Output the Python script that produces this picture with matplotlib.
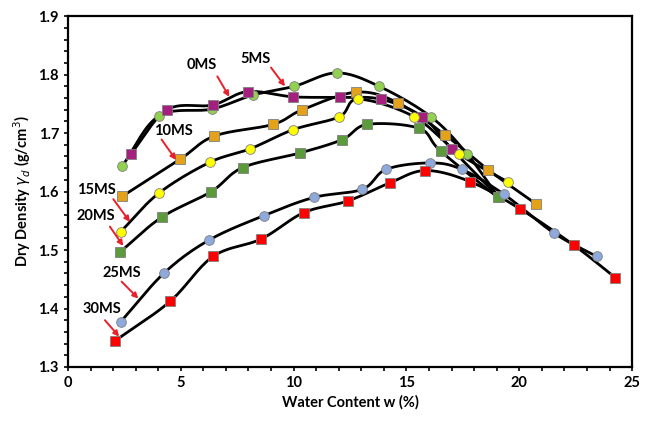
import numpy as np
import matplotlib
matplotlib.use("Agg")
import matplotlib.pyplot as plt
from matplotlib.ticker import MultipleLocator

# water content w (%) and dry density (g/cm3)
w_0ms = [2.41, 4.02, 6.37, 8.19, 10.03, 11.92, 13.79, 16.08, 17.67, 19.05]
d_0ms = [1.644, 1.729, 1.741, 1.765, 1.780, 1.803, 1.780, 1.728, 1.665, 1.592]

w_5ms = [2.78, 4.40, 6.41, 7.96, 9.99, 12.06, 13.86, 15.71, 17.00, 19.10]
d_5ms = [1.664, 1.740, 1.748, 1.771, 1.762, 1.761, 1.758, 1.728, 1.673, 1.590]

w_10ms = [2.41, 4.96, 6.49, 9.10, 10.39, 12.77, 14.61, 16.71, 18.63, 20.74]
d_10ms = [1.592, 1.655, 1.695, 1.715, 1.740, 1.770, 1.752, 1.697, 1.637, 1.579]

w_15ms = [2.33, 4.02, 6.28, 8.07, 9.99, 12.03, 12.87, 15.34, 17.35, 19.52]
d_15ms = [1.531, 1.597, 1.650, 1.673, 1.706, 1.728, 1.758, 1.728, 1.664, 1.616]

w_20ms = [2.32, 4.15, 6.35, 7.74, 10.28, 12.16, 13.27, 15.57, 16.52, 19.05]
d_20ms = [1.497, 1.556, 1.600, 1.641, 1.666, 1.689, 1.715, 1.708, 1.669, 1.590]

w_25ms = [2.33, 4.27, 6.25, 8.69, 10.90, 13.05, 14.10, 16.05, 17.45, 19.33, 21.54, 23.43]
d_25ms = [1.377, 1.461, 1.517, 1.559, 1.590, 1.604, 1.638, 1.649, 1.638, 1.595, 1.529, 1.489]

w_30ms = [2.10, 4.52, 6.43, 8.57, 10.45, 12.41, 14.27, 15.84, 17.82, 20.05, 22.43, 24.25]
d_30ms = [1.345, 1.412, 1.489, 1.519, 1.564, 1.584, 1.615, 1.636, 1.617, 1.570, 1.508, 1.453]

x_ticks = [0, 5, 10, 15, 20, 25]
y_ticks = [1.3, 1.4, 1.5, 1.6, 1.7, 1.8, 1.9]


def smooth(x, y, n=20):
    # Excel-style smoothed line (Catmull-Rom through the measured points)
    x = np.asarray(x, float)
    y = np.asarray(y, float)
    px = np.concatenate([[2 * x[0] - x[1]], x, [2 * x[-1] - x[-2]]])
    py = np.concatenate([[2 * y[0] - y[1]], y, [2 * y[-1] - y[-2]]])
    t = np.linspace(0, 1, n)
    xs, ys = [], []
    for i in range(1, len(px) - 2):
        for p, out in ((px, xs), (py, ys)):
            p0, p1, p2, p3 = p[i - 1], p[i], p[i + 1], p[i + 2]
            out.append(0.5 * (2 * p1 + (-p0 + p2) * t
                              + (2 * p0 - 5 * p1 + 4 * p2 - p3) * t ** 2
                              + (-p0 + 3 * p1 - 3 * p2 + p3) * t ** 3))
    return np.concatenate(xs), np.concatenate(ys)


plt.rcParams["font.family"] = ["Lato", "DejaVu Sans"]
plt.rcParams["mathtext.fontset"] = "dejavusans"

fig = plt.figure(figsize=(6.47, 4.25), dpi=100)
ax = fig.add_axes([0.105, 0.1365, 0.872, 0.8255])

series = [
    (w_0ms, d_0ms, "o", "#92D050"),
    (w_5ms, d_5ms, "s", "#A5207E"),
    (w_10ms, d_10ms, "s", "#E3A21A"),
    (w_15ms, d_15ms, "o", "#FFFF00"),
    (w_20ms, d_20ms, "s", "#5B9B3C"),
    (w_25ms, d_25ms, "o", "#8EA9DB"),
    (w_30ms, d_30ms, "s", "#FF0000"),
]

for w, d, mk, col in series:
    sx, sy = smooth(w, d)
    ax.plot(sx, sy, color="black", lw=2.0, zorder=2)
for w, d, mk, col in series:
    ax.plot(w, d, ls="none", marker=mk, ms=7 if mk == "o" else 6.5,
            mfc=col, mec="#7f7f7f", mew=0.6, zorder=3)

labels = [
    ("0MS", (5.93, 1.816), (6.62, 1.797), (7.15, 1.762)),
    ("5MS", (8.29, 1.826), (9.0, 1.812), (9.62, 1.780)),
    ("10MS", (4.67, 1.703), (4.15, 1.689), (4.79, 1.654)),
    ("15MS", (1.24, 1.603), (2.01, 1.587), (2.75, 1.548)),
    ("20MS", (1.24, 1.558), (1.86, 1.540), (2.45, 1.507)),
    ("25MS", (2.38, 1.461), (2.38, 1.446), (3.12, 1.417)),
    ("30MS", (1.49, 1.400), (1.64, 1.380), (2.27, 1.352)),
]
for txt, pos, a0, a1 in labels:
    ax.text(pos[0], pos[1], txt, ha="center", va="center",
            fontsize=10.5, fontweight="bold", zorder=5)
    ax.annotate("", xy=a1, xytext=a0,
                arrowprops=dict(arrowstyle="-|>", color="#E8202A", lw=1.4,
                                mutation_scale=8, shrinkA=0, shrinkB=0),
                zorder=5)

ax.set_xlim(0, 25)
ax.set_ylim(1.3, 1.9)
ax.set_xticks(x_ticks)
ax.set_yticks(y_ticks)
ax.set_yticklabels([f"{v:.1f}" for v in y_ticks])
ax.xaxis.set_minor_locator(MultipleLocator(1))
ax.yaxis.set_minor_locator(MultipleLocator(0.02))
ax.tick_params(which="both", direction="out", length=3, width=1.2,
               labelsize=10.5)
for lab in ax.get_xticklabels() + ax.get_yticklabels():
    lab.set_fontweight("bold")
for sp in ax.spines.values():
    sp.set_linewidth(1.6)

ax.set_xlabel("Water Content w (%)", fontsize=10.5, fontweight="bold")
ax.set_ylabel(r"Dry Density $\gamma_d$ (g/cm$^3$)", fontsize=10.5,
              fontweight="bold")

fig.savefig("out.png", dpi=100)
